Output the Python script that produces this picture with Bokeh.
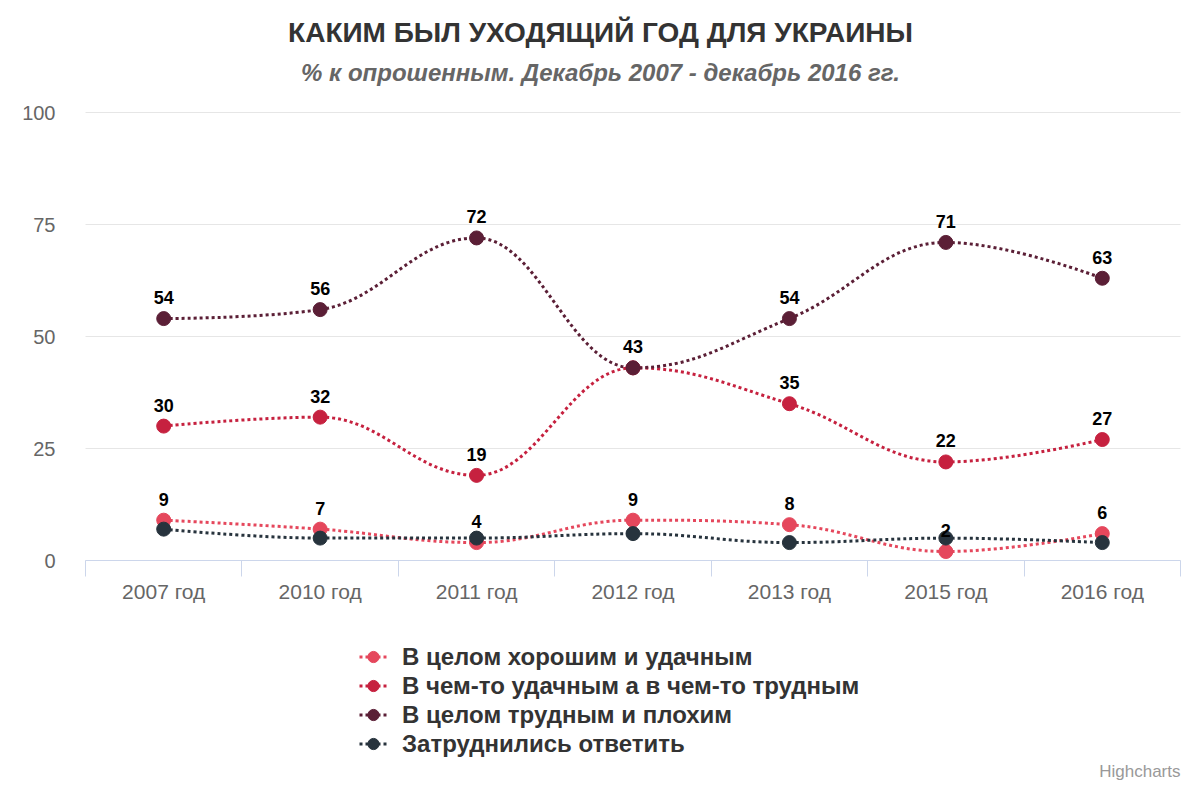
from bokeh.plotting import figure
from bokeh.models import Label, Legend, LegendItem, FixedTicker, ColumnDataSource
from bokeh.core.properties import value
from bokeh.embed import file_html
from bokeh.resources import INLINE

# ---------------- data ----------------
categories = ["2007 год", "2010 год", "2011 год", "2012 год", "2013 год", "2015 год", "2016 год"]
series_names = [
    "В целом хорошим и удачным",
    "В чем-то удачным а в чем-то трудным",
    "В целом трудным и плохим",
    "Затруднились ответить",
]
good = [9, 7, 4, 9, 8, 2, 6]
mixed = [30, 32, 19, 43, 35, 22, 27]
bad = [54, 56, 72, 43, 54, 71, 63]
unsure = [7, 5, 5, 6, 4, 5, 4]
# which data labels are shown (Highcharts hides overlapping ones)
good_labels = [True, True, True, True, True, True, True]
mixed_labels = [True, True, True, True, True, True, True]
bad_labels = [True, True, True, False, True, True, True]
unsure_labels = [False] * 7

colors = ["#e5475c", "#c6213f", "#5b1f36", "#27333d"]
y_ticks = [0, 25, 50, 75, 100]

FONT = "Liberation Sans"
W, H = 1184, 784
# plot area in page pixels (reference layout)
PL, PR, PT, PB = 85, 1180, 112, 560
N = len(categories)
XS = (PR - PL) / N          # px per category
YS = (PB - PT) / 100.0      # px per percent


def dx(px):
    return (px - PL) / XS - 0.5


def dy(py):
    return (PB - py) / YS


p = figure(width=W, height=H, output_backend="svg", toolbar_location=None,
           x_range=(dx(0), dx(W)), y_range=(dy(H), dy(0)), min_border=0)
p.outline_line_color = None
p.background_fill_color = "white"
p.border_fill_color = "white"
p.xgrid.visible = False
p.ygrid.visible = False

xs = list(range(N))

# horizontal grid lines across the plot area only
p.segment(x0=[-0.5] * len(y_ticks), x1=[N - 0.5] * len(y_ticks), y0=y_ticks, y1=y_ticks,
          line_color="#e6e6e6", line_width=1)

# x axis
xa = p.xaxis[0]
xa.fixed_location = 0
xa.bounds = (-0.5, N - 0.5)
xa.ticker = FixedTicker(ticks=xs, minor_ticks=[i - 0.5 for i in range(N + 1)])
xa.major_label_overrides = {i: c for i, c in enumerate(categories)}
xa.axis_line_color = "#ccd6eb"
xa.major_tick_line_color = None
xa.major_tick_out = 0
xa.major_tick_in = 0
xa.minor_tick_line_color = "#ccd6eb"
xa.minor_tick_out = 16
xa.minor_tick_in = 0
xa.major_label_text_font = FONT
xa.major_label_text_font_size = "21px"
xa.major_label_text_color = "#666666"
xa.major_label_standoff = 3

# y axis
ya = p.yaxis[0]
ya.fixed_location = -0.5
ya.bounds = (0, 100)
ya.ticker = FixedTicker(ticks=y_ticks)
ya.axis_line_color = None
ya.major_tick_line_color = None
ya.minor_tick_line_color = None
ya.major_tick_out = 0
ya.major_tick_in = 0
ya.major_label_text_font = FONT
ya.major_label_text_font_size = "20px"
ya.major_label_text_color = "#666666"
ya.major_label_standoff = 30


def spline(xv, yv, smoothing=1.5):
    """Highcharts-style spline control points for cubic Bezier segments."""
    n = len(xv)
    left = [(xv[i], yv[i]) for i in range(n)]
    right = [(xv[i], yv[i]) for i in range(n)]
    d = smoothing + 1
    for i in range(1, n - 1):
        px, py = xv[i], yv[i]
        lx, ly = xv[i - 1], yv[i - 1]
        nx, ny = xv[i + 1], yv[i + 1]
        lcx = (smoothing * px + lx) / d
        lcy = (smoothing * py + ly) / d
        rcx = (smoothing * px + nx) / d
        rcy = (smoothing * py + ny) / d
        if rcx != lcx:
            corr = (rcy - lcy) * (rcx - px) / (rcx - lcx) + py - rcy
            lcy += corr
            rcy += corr
        if lcy > ly and lcy > py:
            lcy = max(ly, py); rcy = 2 * py - lcy
        elif lcy < ly and lcy < py:
            lcy = min(ly, py); rcy = 2 * py - lcy
        if rcy > ny and rcy > py:
            rcy = max(ny, py); lcy = 2 * py - rcy
        elif rcy < ny and rcy < py:
            rcy = min(ny, py); lcy = 2 * py - rcy
        left[i] = (lcx, lcy)
        right[i] = (rcx, rcy)
    seg = dict(x0=[], y0=[], x1=[], y1=[], cx0=[], cy0=[], cx1=[], cy1=[])
    for i in range(n - 1):
        seg["x0"].append(xv[i]); seg["y0"].append(yv[i])
        seg["x1"].append(xv[i + 1]); seg["y1"].append(yv[i + 1])
        seg["cx0"].append(right[i][0]); seg["cy0"].append(right[i][1])
        seg["cx1"].append(left[i + 1][0]); seg["cy1"].append(left[i + 1][1])
    return seg


all_series = [good, mixed, bad, unsure]
all_flags = [good_labels, mixed_labels, bad_labels, unsure_labels]
items = []
for name, vals, col in zip(series_names, all_series, colors):
    seg = spline(xs, vals)
    p.bezier(x0="x0", y0="y0", x1="x1", y1="y1", cx0="cx0", cy0="cy0", cx1="cx1", cy1="cy1",
             source=ColumnDataSource(seg), line_color=col, line_width=3, line_dash="3 3")
    sc = p.scatter(x=xs, y=vals, size=14, marker="circle", fill_color=col, line_color=col)
    # single-point line: draws nothing on the chart, only provides the legend's dotted stroke
    ln = p.line(x=xs[:1], y=vals[:1], line_color=col, line_width=3, line_dash="3 3")
    items.append(LegendItem(label=name, renderers=[ln, sc]))

# data labels on top
for vals, flags in zip(all_series, all_flags):
    lx = [x for x, f in zip(xs, flags) if f]
    ly = [v for v, f in zip(vals, flags) if f]
    lt = [str(v) for v, f in zip(vals, flags) if f]
    if lx:
        p.text(x=lx, y=ly, text=lt, text_align="center", text_baseline="middle",
               y_offset=-21, text_font_size="18px", text_font_style="bold",
               text_color="#000000", text_font=value(FONT))

legend = Legend(items=items, location=(359, H - 758), orientation="vertical",
                glyph_width=28, glyph_height=29, label_height=20, spacing=0,
                label_standoff=15, padding=0, margin=0,
                label_text_font=FONT, label_text_font_size="24px",
                label_text_font_style="bold", label_text_color="#333333",
                background_fill_alpha=0, border_line_color=None)
p.add_layout(legend)

p.add_layout(Label(x=dx(600), y=dy(32), text="КАКИМ БЫЛ УХОДЯЩИЙ ГОД ДЛЯ УКРАИНЫ",
                   text_align="center", text_baseline="middle", text_font=FONT,
                   text_font_size="28px", text_font_style="bold", text_color="#333333"))
p.add_layout(Label(x=dx(600), y=dy(72), text="% к опрошенным. Декабрь 2007 - декабрь 2016 гг.",
                   text_align="center", text_baseline="middle", text_font=FONT,
                   text_font_size="24px", text_font_style="bold italic", text_color="#666666"))
p.add_layout(Label(x=dx(1180), y=dy(771), text="Highcharts",
                   text_align="right", text_baseline="middle", text_font=FONT,
                   text_font_size="17px", text_color="#999999"))

open("out.html", "w").write(file_html(p, INLINE))
